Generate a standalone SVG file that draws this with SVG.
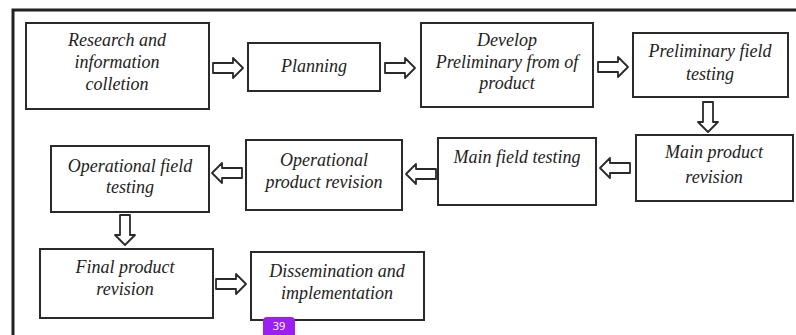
<svg xmlns="http://www.w3.org/2000/svg" width="796" height="335" viewBox="0 0 796 335">
<style>
.box{fill:#fff;stroke:#2a2a2a;stroke-width:2}
.t{font-family:"Liberation Serif","Times New Roman",serif;font-style:italic;font-size:18px;fill:#222;text-anchor:middle}
.arr{fill:#fff;stroke:#2a2a2a;stroke-width:1.8;stroke-linejoin:round}
.frame{fill:none;stroke:#222;stroke-width:3}
</style>
<defs>
<path id="ar" d="M0,-5 H20 V-10 L30,0 L20,10 V5 H0 Z"/>
</defs>
<rect width="796" height="335" fill="#fff"/>
<path class="frame" d="M13,335 V10 H796"/>
<g id="connectors">
<use href="#ar" class="arr" transform="translate(213,68)"/>
<use href="#ar" class="arr" transform="translate(385,68)"/>
<use href="#ar" class="arr" transform="translate(598,67)"/>
<use href="#ar" class="arr" transform="translate(708,102) rotate(90)"/>
<use href="#ar" class="arr" transform="translate(630,168) rotate(180)"/>
<use href="#ar" class="arr" transform="translate(436,174) rotate(180)"/>
<use href="#ar" class="arr" transform="translate(242,173) rotate(180)"/>
<use href="#ar" class="arr" transform="translate(125,215) rotate(90)"/>
<use href="#ar" class="arr" transform="translate(216,284)"/>
</g>
<g id="n1"><rect class="box" x="26" y="23" width="183" height="86"/>
<text class="t" x="117" y="46">Research and</text>
<text class="t" x="117" y="68">information</text>
<text class="t" x="117" y="90">colletion</text></g>
<g id="n2"><rect class="box" x="248" y="43" width="132" height="48"/>
<text class="t" x="314" y="72">Planning</text></g>
<g id="n3"><rect class="box" x="421" y="23" width="172" height="84"/>
<text class="t" x="507" y="46">Develop</text>
<text class="t" x="507" y="68">Preliminary from of</text>
<text class="t" x="507" y="89">product</text></g>
<g id="n4"><rect class="box" x="633" y="33" width="155" height="64"/>
<text class="t" x="710" y="57">Preliminary field</text>
<text class="t" x="710" y="80">testing</text></g>
<g id="n5"><rect class="box" x="636" y="135" width="157" height="66"/>
<text class="t" x="714" y="158">Main product</text>
<text class="t" x="714" y="183">revision</text></g>
<g id="n6"><rect class="box" x="438" y="138" width="158" height="67"/>
<text class="t" x="517" y="163">Main field testing</text></g>
<g id="n7"><rect class="box" x="246" y="140" width="156" height="70"/>
<text class="t" x="324" y="166">Operational</text>
<text class="t" x="324" y="188">product revision</text></g>
<g id="n8"><rect class="box" x="51" y="146" width="158" height="66"/>
<text class="t" x="130" y="172">Operational field</text>
<text class="t" x="130" y="193">testing</text></g>
<g id="n9"><rect class="box" x="40" y="249" width="173" height="69"/>
<text class="t" x="125" y="273">Final product</text>
<text class="t" x="125" y="295">revision</text></g>
<g id="n10"><rect class="box" x="251" y="252" width="173" height="68"/>
<text class="t" x="337" y="277">Dissemination and</text>
<text class="t" x="337" y="299">implementation</text></g>
<g id="badge"><path d="M263,335 V321 Q263,317 267,317 H291 Q295,317 295,321 V335 Z" fill="#9b1ff0"/>
<text x="279" y="330" font-family="'Noto Sans','DejaVu Sans',sans-serif" font-size="11" fill="#fff" text-anchor="middle">39</text></g>
</svg>
